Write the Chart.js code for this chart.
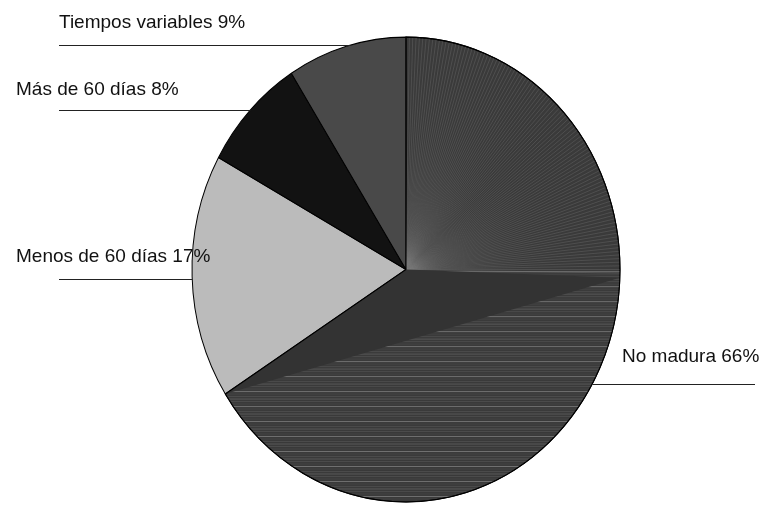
<!DOCTYPE html>
<html>
<head>
<meta charset="utf-8">
<script src="https://cdn.jsdelivr.net/npm/chart.js@4.4.0/dist/chart.umd.min.js"></script>
<style>
  html, body { margin: 0; padding: 0; background: #fff; }
  #wrap { width: 763px; height: 505px; }
</style>
</head>
<body>
<div id="wrap"><canvas id="maduraChart" width="763" height="505"></canvas></div>
<script>
// Datos del grafico
const categorias = ['No madura', 'Menos de 60 días', 'Más de 60 días', 'Tiempos variables'];
const porcentajes = [66, 17, 8, 9];
const colores = ['#3a3a3a', '#bbbbbb', '#121212', '#494949'];

// el pastel original esta un poco estirado en vertical
const ESCALA_Y = 1.086;

// Estira el pastel y dibuja el rayado de la porcion grande
const estiramiento = {
  id: 'estiramiento',
  beforeDatasetsDraw(chart) {
    const arc = chart.getDatasetMeta(0).data[0];
    const ctx = chart.ctx;
    ctx.save();
    ctx.translate(arc.x, arc.y);
    ctx.scale(1, ESCALA_Y);
    ctx.translate(-arc.x, -arc.y);
  },
  afterDatasetsDraw(chart) {
    const ctx = chart.ctx;
    const arc = chart.getDatasetMeta(0).data[0];
    const { x, y, outerRadius: r, startAngle, endAngle } = arc;

    ctx.save();
    ctx.beginPath();
    ctx.moveTo(x, y);
    ctx.arc(x, y, r, startAngle, endAngle);
    ctx.closePath();
    ctx.clip();

    // abanico de lineas en el cuadrante superior derecho
    ctx.lineWidth = 0.6;
    ctx.strokeStyle = 'rgba(125,125,125,0.5)';
    for (let a = startAngle; a < 0.03; a += Math.PI / 200) {
      ctx.beginPath();
      ctx.moveTo(x, y);
      ctx.lineTo(x + r * Math.cos(a), y + r * Math.sin(a));
      ctx.stroke();
    }

    // rayado horizontal en la parte de abajo
    let i = 0;
    for (let yy = y + 2; yy < y + r; yy += 2.3) {
      ctx.strokeStyle = (i % 3 === 0) ? 'rgba(140,140,140,0.7)' : 'rgba(100,100,100,0.45)';
      ctx.lineWidth = (i % 2 === 0) ? 0.9 : 0.5;
      ctx.beginPath();
      ctx.moveTo(x - r, yy);
      ctx.lineTo(x + r, yy);
      ctx.stroke();
      i++;
    }

    // triangulo oscuro liso
    const a1 = 0.035;
    ctx.fillStyle = '#333333';
    ctx.beginPath();
    ctx.moveTo(x, y);
    ctx.lineTo(x + r * Math.cos(a1), y + r * Math.sin(a1));
    ctx.lineTo(x + r * Math.cos(endAngle), y + r * Math.sin(endAngle));
    ctx.closePath();
    ctx.fill();
    ctx.restore();

    // volver a marcar el borde
    ctx.strokeStyle = '#000';
    ctx.lineWidth = 1;
    ctx.beginPath();
    ctx.moveTo(x, y);
    ctx.arc(x, y, r, startAngle, endAngle);
    ctx.closePath();
    ctx.stroke();

    ctx.restore(); // quita el estiramiento
  }
};

// Etiquetas con linea guia
const guias = {
  id: 'guias',
  afterDraw(chart) {
    const ctx = chart.ctx;
    const arc = chart.getDatasetMeta(0).data[0];
    const rx = arc.outerRadius;
    const ry = arc.outerRadius * ESCALA_Y;
    const bordeX = (ly, lado) => {
      const t = (ly - arc.y) / ry;
      const d = rx * Math.sqrt(Math.max(0, 1 - t * t));
      return arc.x + lado * d;
    };
    // texto x, base del texto, altura de la linea, lado del pastel, extremo exterior
    const pos = [
      { tx: 622, ty: 362, ly: 384, lado: 1, ext: 755 },
      { tx: 16, ty: 262, ly: 279, lado: -1, ext: 59 },
      { tx: 16, ty: 95, ly: 110, lado: -1, ext: 59 },
      { tx: 59, ty: 28, ly: 45, lado: -1, ext: 59 }
    ];
    ctx.save();
    ctx.font = '19px "Liberation Sans", Arial, sans-serif';
    ctx.fillStyle = '#111';
    ctx.textBaseline = 'alphabetic';
    ctx.strokeStyle = '#222';
    ctx.lineWidth = 1;
    categorias.forEach((c, i) => {
      const p = pos[i];
      ctx.fillText(c + ' ' + porcentajes[i] + '%', p.tx, p.ty);
      const bx = bordeX(p.ly, p.lado);
      ctx.beginPath();
      ctx.moveTo(p.ext, p.ly + 0.5);
      ctx.lineTo(bx, p.ly + 0.5);
      ctx.stroke();
    });
    ctx.restore();
  }
};

new Chart(document.getElementById('maduraChart'), {
  type: 'pie',
  data: {
    labels: categorias,
    datasets: [{
      data: porcentajes,
      backgroundColor: colores,
      borderColor: '#000',
      borderWidth: 1,
      hoverOffset: 0
    }]
  },
  options: {
    responsive: false,
    animation: false,
    events: [],
    radius: 214,
    layout: { padding: { left: 100, right: 51, top: 40, bottom: 6 } },
    plugins: {
      legend: { display: false },
      tooltip: { enabled: false }
    }
  },
  plugins: [estiramiento, guias]
});
</script>
</body>
</html>
